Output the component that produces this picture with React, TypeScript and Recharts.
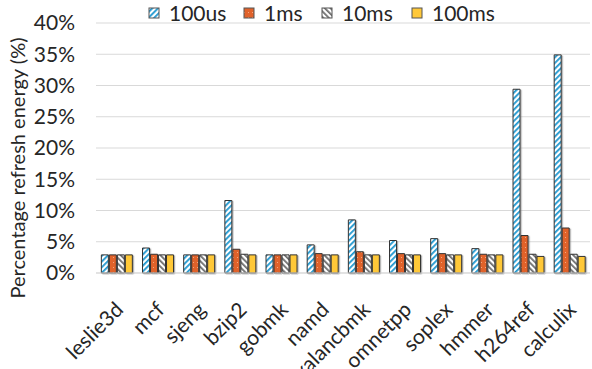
import React from 'react';
import { BarChart, Bar, XAxis, YAxis, CartesianGrid } from 'recharts';

const categories = ['leslie3d', 'mcf', 'sjeng', 'bzip2', 'gobmk', 'namd', 'xalancbmk', 'omnetpp', 'soplex', 'hmmer', 'h264ref', 'calculix'];
const us100 = [2.9, 4.0, 2.9, 11.6, 2.9, 4.5, 8.5, 5.2, 5.5, 3.9, 29.4, 34.9];
const ms1 = [2.9, 3.0, 2.9, 3.8, 2.9, 3.1, 3.4, 3.1, 3.1, 3.0, 6.0, 7.2];
const ms10 = [2.9, 2.9, 2.9, 3.0, 2.9, 2.9, 2.9, 2.9, 2.9, 2.9, 3.0, 3.0];
const ms100 = [2.9, 2.9, 2.9, 2.9, 2.9, 2.9, 2.9, 2.9, 2.9, 2.9, 2.65, 2.65];
const seriesNames = ['100us', '1ms', '10ms', '100ms'];
const yTicks = [0, 5, 10, 15, 20, 25, 30, 35, 40];

const data = categories.map((c, i) => ({
  name: c,
  us100: us100[i],
  ms1: ms1[i],
  ms10: ms10[i],
  ms100: ms100[i],
}));

const FONT = 'Lato, "Open Sans", sans-serif';
const FS = 21;
const TEXT = '#262626';
const BORDER = '#333333';

const Patterns = ({ prefix }: { prefix: string }) => (
  <defs>
    <pattern id={`${prefix}-blue`} patternUnits="userSpaceOnUse" width="4" height="4" patternTransform="rotate(45)">
      <rect width="4" height="4" fill="#ffffff" />
      <rect x="0" y="0" width="1.8" height="4" fill="#1f97cf" />
    </pattern>
    <pattern id={`${prefix}-orange`} patternUnits="userSpaceOnUse" width="4" height="5">
      <rect width="4" height="5" fill="#e0622b" />
      <rect x="1" y="2" width="1" height="1" fill="#f4a77e" />
    </pattern>
    <pattern id={`${prefix}-gray`} patternUnits="userSpaceOnUse" width="4" height="4" patternTransform="rotate(-45)">
      <rect width="4" height="4" fill="#ffffff" />
      <rect x="0" y="0" width="1.8" height="4" fill="#6e6e6e" />
    </pattern>
    <filter id={`${prefix}-shadow`} x="-30%" y="-10%" width="160%" height="120%">
      <feDropShadow dx="1.2" dy="0.8" stdDeviation="0.5" floodColor="#7a7a7a" floodOpacity="0.6" />
    </filter>
  </defs>
);

const fills = (p: string) => [`url(#${p}-blue)`, `url(#${p}-orange)`, `url(#${p}-gray)`, '#ffc839'];

const LegendBox = () => {
  const xs = [0, 95, 173, 263];
  return (
    <svg width={420} height={26} style={{ position: 'absolute', left: 148, top: 0, display: 'block' }}>
      <Patterns prefix="lg" />
      {seriesNames.map((n, i) => (
        <g key={n} transform={`translate(${xs[i]},0)`}>
          <rect x={1} y={8} width={10} height={10} fill={fills('lg')[i]} stroke="#555" strokeWidth={1} />
          <text x={21} y={21} fontSize={FS} fontFamily={FONT} fill={TEXT}>{n}</text>
        </g>
      ))}
    </svg>
  );
};

const XTick = (props: any) => {
  const { x, y, payload } = props;
  const ax = x + 8;
  const ay = y + 30;
  return (
    <text
      x={ax}
      y={ay}
      transform={`rotate(-45 ${ax} ${ay})`}
      textAnchor="end"
      fontSize={FS}
      fontFamily={FONT}
      fill={TEXT}
    >
      {payload.value}
    </text>
  );
};

const YLabel = (props: any) => {
  const vb = props.viewBox || { x: 0, y: 23, width: 96, height: 250 };
  const cx = vb.x + 25;
  const cy = vb.y + vb.height / 2 + 20;
  return (
    <text
      x={cx}
      y={cy}
      transform={`rotate(-90 ${cx} ${cy})`}
      textAnchor="middle"
      fontSize={20}
      fontFamily={FONT}
      fill={TEXT}
    >
      Percentage refresh energy (%)
    </text>
  );
};

export default function App() {
  const f = fills('ch');
  const keys = ['us100', 'ms1', 'ms10', 'ms100'];
  return (
    <div style={{ position: 'absolute', left: 0, top: 0, width: 592, height: 369, overflow: 'hidden' }}>
      <BarChart
        width={592}
        height={369}
        data={data}
        margin={{ top: 23, right: 2, bottom: 0, left: 0 }}
        barCategoryGap="13%"
        barGap={1}
      >
        <Patterns prefix="ch" />
        <CartesianGrid vertical={false} stroke="#d9d9d9" strokeWidth={1} />
        <XAxis
          dataKey="name"
          interval={0}
          tickLine={false}
          axisLine={{ stroke: '#d9d9d9' }}
          tick={<XTick />}
          height={96}
        />
        <YAxis
          domain={[0, 40]}
          ticks={yTicks}
          interval={0}
          width={96}
          tickLine={false}
          axisLine={false}
          tickFormatter={(v: number) => `${v}%`}
          tick={{ fontSize: FS, fontFamily: FONT, fill: TEXT }}
          tickMargin={15}
          label={<YLabel />}
        />
        {keys.map((k, i) => (
          <Bar
            key={k}
            dataKey={k}
            name={seriesNames[i]}
            fill={f[i]}
            stroke={BORDER}
            strokeWidth={1}
            style={{ filter: 'url(#ch-shadow)' }}
            isAnimationActive={false}
          />
        ))}
      </BarChart>
      <LegendBox />
    </div>
  );
}
